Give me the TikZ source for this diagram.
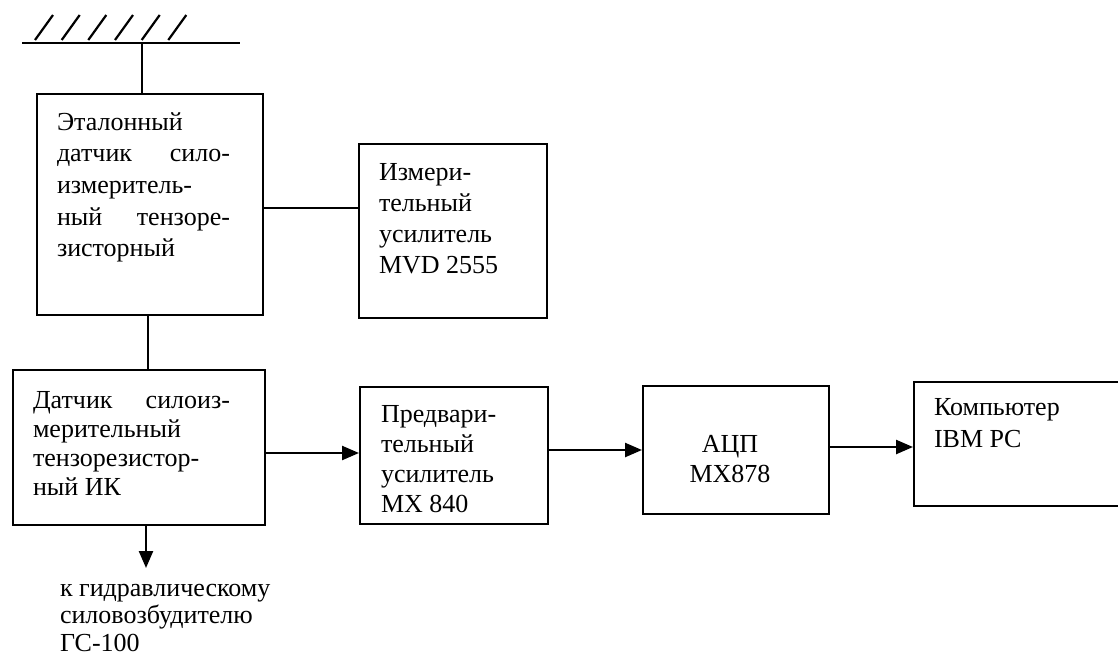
\documentclass[tikz,border=0pt]{standalone}
\usepackage{fontspec}
\setmainfont{Liberation Serif}
\usetikzlibrary{arrows.meta}
\tikzset{
  box/.style={draw, line width=2.4pt, rectangle, inner sep=0pt, anchor=north west},
  txt/.style={anchor=base west, inner sep=0pt, outer sep=0pt},
  wire/.style={line width=2.4pt},
  arr/.style={line width=2.4pt, -{Triangle[length=17pt,width=14pt]}},
}
\newcommand{\lines}[3]{\parbox[t]{#1}{\fontsize{26}{#2}\selectfont\raggedright #3}}
\newcommand{\just}[2]{\leavevmode\makebox[#1][l]{#2}}
\begin{document}
\begin{tikzpicture}[x=1pt,y=-1pt]
\clip (0,0) rectangle (1118,657);
\fill[white] (0,0) rectangle (1118,657);
% ground
\coordinate (gl) at (22,43);
\coordinate (gr) at (240,43);
\draw[wire] (gl) -- (gr);
\foreach \x in {35,61.7,88.3,115,141.7,168.3}
  \draw[line width=2.2pt] (\x,40) -- ++(18,-25);
\coordinate (gm) at (142,43);
% boxes
\node[box, minimum width=226pt, minimum height=221pt] (b1) at (36,93) {};
\node[box, minimum width=188pt, minimum height=174pt] (b2) at (358,143) {};
\node[box, minimum width=252pt, minimum height=155pt] (b3) at (12,369) {};
\node[box, minimum width=188pt, minimum height=137pt] (b4) at (359,386) {};
\node[box, minimum width=186pt, minimum height=128pt] (b5) at (642,385) {};
\node[box, minimum width=230pt, minimum height=124pt] (b6) at (913,381) {};
% texts
\node[txt] (t1) at (57,130) {\lines{200pt}{31.7pt}{Эталонный\\
  \just{173pt}{датчик\hfill сило-}\\
  измеритель-\\
  \just{173pt}{ный\hfill тензоре-}\\
  зисторный}};
\node[txt] (t2) at (379,180) {\lines{160pt}{31pt}{Измери-\\тельный\\усилитель\\MVD 2555}};
\node[txt] (t3) at (33,408) {\lines{220pt}{29pt}{\just{197pt}{Датчик\hfill силоиз-}\\
  мерительный\\тензорезистор-\\ный ИК}};
\node[txt] (t4) at (381,422) {\lines{160pt}{30pt}{Предвари-\\тельный\\усилитель\\MX 840}};
\node[anchor=base, inner sep=0pt] (t5) at (730,452) {\parbox[t]{150pt}{\centering\fontsize{26}{30pt}\selectfont АЦП\\MX878}};
\node[txt] (t6) at (934,415) {\lines{180pt}{32pt}{Компьютер\\IBM PC}};
\node[txt] (t7) at (60,596) {\lines{240pt}{27.5pt}{к гидравлическому\\силовозбудителю\\ГС-100}};
% connectors
\draw[wire] (gm) -- (gm |- b1.north);
\draw[wire] (b1.east |- 0,208) -- (b2.west |- 0,208);
\draw[wire] (b1.south -| 148,0) -- (b3.north -| 148,0);
\draw[arr] (b3.east |- 0,453) -- (b4.west |- 0,453);
\draw[arr] (b4.east |- 0,450) -- (b5.west |- 0,450);
\draw[arr] (b5.east |- 0,447) -- (b6.west |- 0,447);
\coordinate (dn) at (146,568);
\draw[arr] (b3.south -| dn) -- (dn);
\end{tikzpicture}
\end{document}
